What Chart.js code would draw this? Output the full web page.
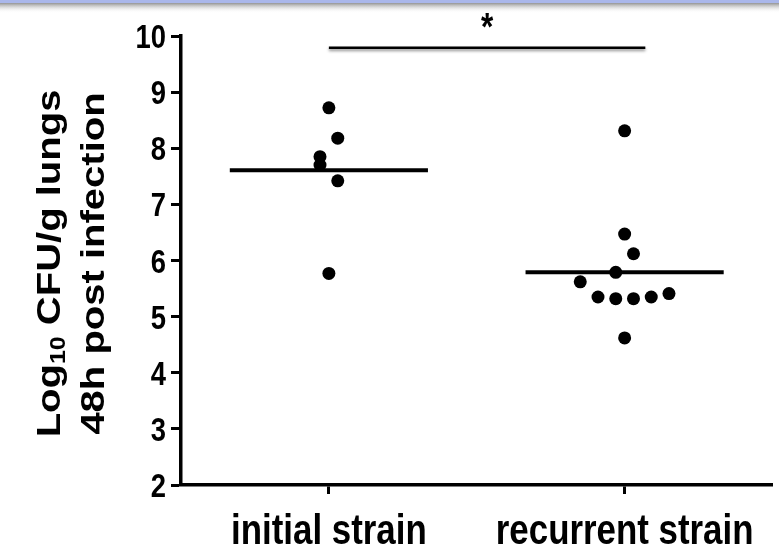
<!DOCTYPE html>
<html>
<head>
<meta charset="utf-8">
<script src="https://cdn.jsdelivr.net/npm/chart.js@4"></script>
<style>
    html, body { margin: 0; padding: 0; background: #fff; }
    #wrap { width: 779px; height: 548px; }
</style>
</head>
<body>
<div id="wrap"><canvas id="cfuChart" width="779" height="548"></canvas></div>
<script>
// ---- Data ----
const categories      = ["initial strain", "recurrent strain"];
const initialValues   = [8.72, 8.18, 7.85, 7.70, 7.42, 5.77];
const initialJitter   = [0, 0.03, -0.03, -0.03, 0.03, 0];
const recurrentValues = [8.31, 6.47, 6.12, 5.79, 5.62, 5.35, 5.32, 5.32, 5.35, 5.41, 4.62];
const recurrentJitter = [0, 0, 0.03, -0.03, -0.15, -0.09, -0.03, 0.03, 0.09, 0.15, 0];
const yMin = 2, yMax = 10, yStep = 1;
const titleLines = [["Log", "10", " CFU/g lungs"], ["48h post infection"]];
const significance = { from: 1, to: 2.07, y: 9.79, label: "*" };

// ---- Style ----
const INK = "#000";
const SANS = "'Liberation Sans', Arial, sans-serif";
const SQUISH = 0.83;          // the figure is squeezed sideways in the slide
const MEAN_HALF = 0.335;

const mean = (a) => a.reduce((s, v) => s + v, 0) / a.length;
const toPoints = (vals, jit, cat) => vals.map((v, i) => ({ x: cat + jit[i], y: v }));
const meanLine = (vals, cat) => [
    { x: cat - MEAN_HALF, y: mean(vals) },
    { x: cat + MEAN_HALF, y: mean(vals) },
];

// text squeezed horizontally, like the source picture
function squeezedText(ctx, text, x, y, font, align) {
    ctx.save();
    ctx.translate(x, y);
    ctx.scale(SQUISH, 1);
    ctx.font = font;
    ctx.textAlign = align;
    ctx.textBaseline = "alphabetic";
    ctx.fillText(text, 0, 0);
    ctx.restore();
}

// background + slide band at the top
const backdrop = {
    id: "backdrop",
    beforeDraw(chart) {
        const { ctx, width } = chart;
        ctx.save();
        ctx.fillStyle = "#fff";
        ctx.fillRect(0, 0, width, chart.height);
        const g = ctx.createLinearGradient(0, 0, 0, 13);
        g.addColorStop(0, "#aab7ea");
        g.addColorStop(0.22, "#aab7ea");
        g.addColorStop(0.26, "#9c9c9c");
        g.addColorStop(1, "rgba(255,255,255,0)");
        ctx.fillStyle = g;
        ctx.fillRect(0, 0, width, 13);
        ctx.restore();
    },
};

// tick labels, rotated y title with subscript, significance bar and star
const annotations = {
    id: "annotations",
    afterDraw(chart) {
        const { ctx, scales: { x, y } } = chart;
        ctx.save();
        ctx.fillStyle = INK;

        x.ticks.forEach((t) => {
            squeezedText(ctx, categories[t.value - 1], x.getPixelForValue(t.value), 544,
                "bold 42px " + SANS, "center");
        });
        y.ticks.forEach((t) => {
            squeezedText(ctx, String(t.value), 166, y.getPixelForValue(t.value) + 12,
                "bold 33px " + SANS, "right");
        });

        const midY = (y.top + y.bottom) / 2 + 3;
        const centers = [51, 95];
        titleLines.forEach((parts, li) => {
            ctx.save();
            ctx.translate(centers[li], midY);
            ctx.rotate(-Math.PI / 2);
            ctx.scale(1, 0.85);
            ctx.textBaseline = "middle";
            ctx.textAlign = "left";
            const isSub = (i) => parts.length > 1 && i === 1;
            const fonts = parts.map((p, i) => isSub(i) ? "bold 25px " + SANS : "bold 40px " + SANS);
            const widths = parts.map((p, i) => { ctx.font = fonts[i]; return ctx.measureText(p).width; });
            let cx = -widths.reduce((s, w) => s + w, 0) / 2;
            parts.forEach((p, i) => {
                ctx.font = fonts[i];
                ctx.fillText(p, cx, isSub(i) ? 9 : 0);
                cx += widths[i];
            });
            ctx.restore();
        });

        const x0 = x.getPixelForValue(significance.from);
        const x1 = x.getPixelForValue(significance.to);
        const yb = y.getPixelForValue(significance.y);
        ctx.save();
        ctx.shadowColor = "rgba(0,0,0,0.45)";
        ctx.shadowBlur = 3;
        ctx.shadowOffsetY = 2;
        ctx.strokeStyle = INK;
        ctx.lineWidth = 2.5;
        ctx.beginPath();
        ctx.moveTo(x0, yb);
        ctx.lineTo(x1, yb);
        ctx.stroke();
        ctx.restore();

        squeezedText(ctx, significance.label, (x0 + x1) / 2, yb - 8, "bold 38px " + SANS, "center");
        ctx.restore();
    },
};

new Chart(document.getElementById("cfuChart"), {
    type: "scatter",
    data: {
        datasets: [
            { data: toPoints(initialValues, initialJitter, 1) },
            { data: toPoints(recurrentValues, recurrentJitter, 2) },
            { data: meanLine(initialValues, 1), showLine: true, pointRadius: 0, borderWidth: 4 },
            { data: meanLine(recurrentValues, 2), showLine: true, pointRadius: 0, borderWidth: 4 },
        ],
    },
    options: {
        responsive: false,
        animation: false,
        devicePixelRatio: 1,
        layout: { padding: { top: 36, right: 6, left: 0, bottom: 0 } },
        elements: {
            point: { radius: 6.5, backgroundColor: INK, borderWidth: 0, hoverRadius: 6.5 },
            line: { borderColor: INK },
        },
        plugins: { legend: { display: false }, tooltip: { enabled: false } },
        scales: {
            x: {
                type: "linear",
                min: 0.5,
                max: 2.5,
                afterBuildTicks: (axis) => { axis.ticks = categories.map((c, i) => ({ value: i + 1 })); },
                afterFit: (axis) => { axis.height = 63; },
                border: { display: true, color: INK, width: 3.5 },
                grid: { drawOnChartArea: false, tickLength: 9, tickColor: INK, tickWidth: 3 },
                ticks: { display: false },
            },
            y: {
                min: yMin,
                max: yMax,
                afterFit: (axis) => { axis.width = 181; },
                border: { display: true, color: INK, width: 3.5 },
                grid: { drawOnChartArea: false, tickLength: 10, tickColor: INK, tickWidth: 3 },
                ticks: { stepSize: yStep, display: false },
            },
        },
    },
    plugins: [backdrop, annotations],
});
</script>
</body>
</html>
